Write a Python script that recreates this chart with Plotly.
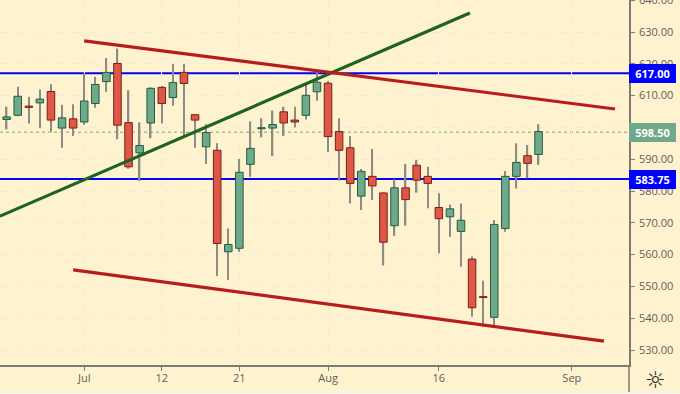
import plotly.graph_objects as go

tick_idx = [7, 14, 21, 29, 39, 51]
tick_txt = ["Jul", "12", "21", "Aug", "16", "Sep"]

opens  = [602.5,603.8,606.7,607.7,611.3,599.8,602.7,601.7,607.5,614.4,620.1,601.5,592.0,601.4,612.6,609.4,617.3,604.0,593.9,592.8,560.9,
          562.0,588.4,599.6,599.8,604.9,602.3,603.8,611.2,613.9,598.7,593.6,578.4,584.6,579.4,569.1,581.0,588.1,584.6,574.8,571.9,567.3,558.6,546.8,540.3,568.2,584.6,591.1,591.5]
closes = [603.3,609.8,606.3,608.9,602.3,603.0,599.8,608.3,613.5,617.3,600.7,587.6,594.3,612.3,607.5,614.1,613.8,602.3,598.4,563.5,563.2,
          585.9,593.4,599.9,600.9,601.4,601.7,610.1,614.2,597.1,592.8,582.4,586.2,581.6,563.9,581.0,577.3,583.4,582.4,571.3,574.4,570.8,543.3,546.5,569.5,584.6,589.0,588.7,598.7]
highs  = [606.5,612.8,609.6,611.9,613.6,607.1,607.3,617.0,615.9,621.8,624.8,611.7,601.6,612.6,613.0,619.9,619.9,604.0,601.0,595.0,568.2,
          590.1,601.9,602.9,605.3,606.5,606.5,613.7,618.0,614.6,602.9,597.3,586.9,593.2,579.5,583.7,588.5,589.8,587.6,579.3,575.8,576.1,559.4,551.8,570.9,586.3,595.0,594.5,601.0]
lows   = [599.4,603.5,601.2,599.7,598.6,593.6,597.3,600.8,606.2,611.2,596.3,587.0,583.2,596.6,601.2,606.8,597.3,593.6,588.5,553.3,552.0,
          560.9,584.5,596.9,591.0,597.3,600.0,602.5,608.4,592.3,583.3,576.1,574.0,577.2,556.6,565.9,569.1,579.5,574.6,560.4,565.6,556.2,540.5,537.3,537.9,567.2,580.8,584.0,588.2]

level_hi = 617.00
level_lo = 583.75
last_px = 598.50
green_line_x, green_line_y = [-0.6, 41.8], [572.1, 636.0]
red_top_x, red_top_y = [7, 54.9], [627.2, 605.8]
red_bot_x, red_bot_y = [6, 53.9], [555.2, 532.8]

BG = "#FFF3CF"
GRID = "#F0EBDF"
UP, UP_B = "#6FA88A", "#1F5F42"
DN, DN_B = "#DD5846", "#7A1F1A"
WICK = "#8C8C84"
AX = "#7B7B72"
TXT = "#5E5E5A"
FONT = "Open Sans"

idx = list(range(len(opens)))
up = [c >= o for o, c in zip(opens, closes)]
fig = go.Figure()
fig.add_trace(go.Bar(x=idx, base=lows, y=[h - l for h, l in zip(highs, lows)], width=0.13,
                     marker=dict(color=WICK, line=dict(width=0)), hoverinfo="skip"))
fig.add_trace(go.Bar(x=idx, base=[min(o, c) for o, c in zip(opens, closes)],
                     y=[abs(o - c) for o, c in zip(opens, closes)], width=0.68,
                     marker=dict(color=[UP if u else DN for u in up],
                                 line=dict(color=[UP_B if u else DN_B for u in up], width=1))))
fig.add_trace(go.Scatter(x=green_line_x, y=green_line_y, mode="lines", line=dict(color="#1E6420", width=3.2)))
fig.add_trace(go.Scatter(x=red_top_x, y=red_top_y, mode="lines", line=dict(color="#B81C1C", width=3.2)))
fig.add_trace(go.Scatter(x=red_bot_x, y=red_bot_y, mode="lines", line=dict(color="#B81C1C", width=3.2)))

for lvl in (level_hi, level_lo):
    fig.add_shape(type="line", xref="paper", x0=0, x1=1, yref="y", y0=lvl, y1=lvl, layer="below",
                  line=dict(color="#0000FF", width=2))
fig.add_shape(type="line", xref="paper", x0=0, x1=1, yref="y", y0=last_px, y1=last_px, layer="below",
              line=dict(color="#6FA88A", width=1, dash="dot"))

for val, col in ((level_hi, "#0000FF"), (last_px, "#6FA88A"), (level_lo, "#0000FF")):
    fig.add_annotation(xref="paper", x=1.0, xanchor="left", yref="y", y=val, yanchor="middle",
                       text=f"<b>{val:.2f}</b>", showarrow=False, bgcolor=col, borderpad=2, borderwidth=0,
                       font=dict(color="white", size=11, family=FONT), width=43, align="center")
fig.add_annotation(xref="paper", x=1.0415, xanchor="center", yref="paper", y=-0.0411, yanchor="middle",
                   text="☼", showarrow=False, font=dict(color="#222222", size=23, family="DejaVu Sans"))
# separator continuing through the time-axis strip
fig.add_shape(type="line", xref="paper", x0=1, x1=1, yref="paper", y0=-0.074, y1=0, line=dict(color=AX, width=1.5))
# pale strip along the very bottom of the window
fig.add_shape(type="rect", xref="paper", x0=0, x1=680/629, yref="paper", y0=-29/365, y1=-27/365,
              fillcolor="#F5F3EA", line=dict(width=0))

fig.update_layout(
    width=680, height=394, margin=dict(l=0, r=51, t=0, b=29, pad=0, autoexpand=False),
    paper_bgcolor=BG, plot_bgcolor=BG, showlegend=False, barmode="overlay", dragmode=False,
    font=dict(family=FONT, color=TXT, size=11),
    xaxis=dict(range=[-0.6, 56.16], tickmode="array", tickvals=tick_idx, ticktext=tick_txt,
               showgrid=True, gridcolor=GRID, griddash="dash", gridwidth=1, zeroline=False,
               showline=True, linecolor=AX, linewidth=1.5, ticks="outside", ticklen=4, tickcolor=AX,
               side="bottom", ticklabelstandoff=-2, automargin=False),
    yaxis=dict(range=[525.3, 640.06], side="right", tickmode="linear", tick0=530, dtick=10, tickformat=".2f",
               showgrid=True, gridcolor=GRID, griddash="dash", gridwidth=1, zeroline=False,
               showline=True, linecolor=AX, linewidth=1.5, ticks="outside", ticklen=4, tickcolor=AX,
               ticklabelstandoff=2, ticklabeloverflow="allow", automargin=False),
)
fig.write_html("out.html", config={"displayModeBar": False},
               post_script="document.body.style.margin='0';document.body.style.overflow='hidden';")
